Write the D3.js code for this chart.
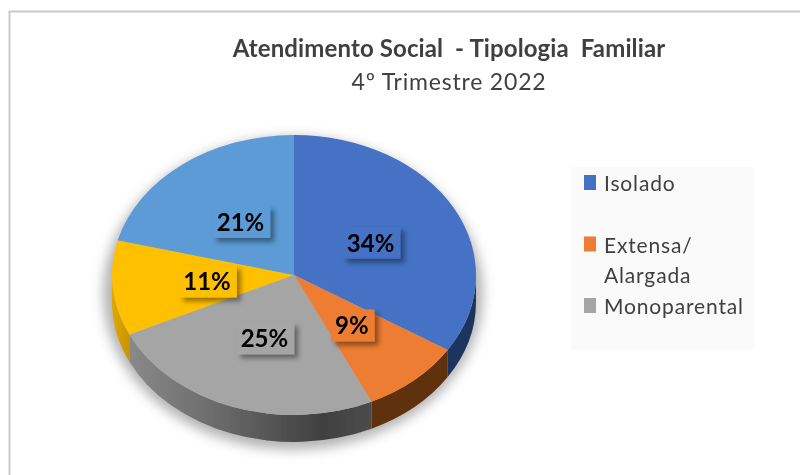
<!DOCTYPE html>
<html>
<head>
<meta charset="utf-8">
<script src="https://cdn.jsdelivr.net/npm/d3@7"></script>
<style>
  body { margin: 0; background: #fff; }
  svg { display: block; font-family: Lato, "Open Sans", sans-serif; }
</style>
</head>
<body>
<div id="chart"></div>
<script>
const titleText = 'Atendimento Social  - Tipologia  Familiar';
const subtitleText = '4º Trimestre 2022';
const sliceValues = [34, 9, 25, 11, 21];
const sliceColors = ['#4472c4', '#ed7d31', '#a5a5a5', '#ffc000', '#5b9bd5'];
const wallColors = ['#1b365f', '#5f3011', 'url(#greyWall)', 'url(#yellowWall)', '#2c4f70'];
// the empty string is the blank row the legend leaves under Isolado
const legendLines = [['Isolado', ''], ['Extensa/', 'Alargada'], ['Monoparental']];

const width = 800, height = 475;
const cx = 294, cy = 275;
const rx = 182, ry = 140, depth = 27;

const svg = d3.select('#chart').append('svg').attr('width', width).attr('height', height);
const defs = svg.append('defs');

defs.append('filter').attr('id', 'halo')
  .attr('x', '-20%').attr('y', '-20%').attr('width', '140%').attr('height', '140%')
  .append('feGaussianBlur').attr('stdDeviation', 6);

// the reference is a slightly soft pasted picture
defs.append('filter').attr('id', 'soft')
  .attr('filterUnits', 'userSpaceOnUse')
  .attr('x', 0).attr('y', 0).attr('width', width).attr('height', height)
  .append('feGaussianBlur').attr('stdDeviation', 0.45);

const labelShadow = defs.append('filter').attr('id', 'labelShadow')
  .attr('x', '-30%').attr('y', '-30%').attr('width', '170%').attr('height', '170%');
labelShadow.append('feDropShadow')
  .attr('dx', 4).attr('dy', 4).attr('stdDeviation', 2.4)
  .attr('flood-color', '#000').attr('flood-opacity', 0.4);

function addGradient(id, stops) {
  const g = defs.append('linearGradient').attr('id', id)
    .attr('gradientUnits', 'userSpaceOnUse')
    .attr('x1', cx - rx).attr('x2', cx + 80).attr('y1', 0).attr('y2', 0);
  stops.forEach(function(s) {
    g.append('stop').attr('offset', s[0]).attr('stop-color', s[1]);
  });
}
addGradient('greyWall', [[0, '#8f8f8f'], [0.45, '#666'], [0.8, '#404040'], [1, '#4c4c4c']]);
addGradient('yellowWall', [[0, '#e0a800'], [0.1, '#b88b00']]);

const root = svg.append('g').attr('filter', 'url(#soft)');

// frame of the pasted picture, it runs off to the right and the bottom
root.append('rect')
  .attr('x', 9.5).attr('y', 11.5)
  .attr('width', width + 20).attr('height', height + 20)
  .attr('fill', 'none').attr('stroke', '#c9c9c9').attr('stroke-width', 2);

// titles
root.append('text').attr('x', 449).attr('y', 57)
  .attr('text-anchor', 'middle').attr('xml:space', 'preserve').style('white-space', 'pre')
  .attr('font-size', 24).attr('letter-spacing', 0.12).attr('font-weight', 700).attr('fill', '#404040')
  .text(titleText);
root.append('text').attr('x', 449).attr('y', 90)
  .attr('text-anchor', 'middle')
  .attr('font-size', 23).attr('letter-spacing', 0.8).attr('fill', '#404040')
  .text(subtitleText);

// soft shadow round the disc, it hangs low so the top edge stays clean
root.append('ellipse')
  .attr('cx', cx - 1).attr('cy', cy + depth / 2 + 5)
  .attr('rx', rx + 8).attr('ry', ry + depth / 2 + 3)
  .attr('fill', '#777').attr('opacity', 0.55)
  .attr('filter', 'url(#halo)');

const pie = d3.pie().sort(null).value(function(d) { return d; });
const slices = pie(sliceValues);

// x / y on the tilted disc for a pie angle
function px(a) { return cx + rx * Math.sin(a); }
function py(a) { return cy - ry * Math.cos(a); }

// side wall, only the front half of the disc can be seen
function wallPath(d) {
  const a0 = Math.max(d.startAngle, Math.PI / 2);
  const a1 = Math.min(d.endAngle, Math.PI * 3 / 2);
  if (a1 <= a0) return null;
  return 'M' + px(a0) + ',' + py(a0) +
    'A' + rx + ',' + ry + ' 0 0 1 ' + px(a1) + ',' + py(a1) +
    'L' + px(a1) + ',' + (py(a1) + depth) +
    'A' + rx + ',' + ry + ' 0 0 0 ' + px(a0) + ',' + (py(a0) + depth) + 'Z';
}

root.append('g').selectAll('path').data(slices).enter().append('path')
  .attr('d', wallPath)
  .attr('fill', function(d, i) { return wallColors[i]; });

// top face, a plain d3 arc squashed into the ellipse
const arc = d3.arc().innerRadius(0).outerRadius(rx);
const face = root.append('g')
  .attr('transform', 'translate(' + cx + ',' + cy + ') scale(1,' + (ry / rx) + ')');
face.selectAll('path').data(slices).enter().append('path')
  .attr('d', arc)
  .attr('fill', function(d, i) { return sliceColors[i]; });

// value labels sit in a box of the slice colour with a drop shadow
const labelArc = d3.arc().innerRadius(rx * 0.48).outerRadius(rx * 0.48);
const labels = root.append('g').selectAll('g').data(slices).enter().append('g')
  .attr('transform', function(d) {
    const c = labelArc.centroid(d);
    return 'translate(' + (cx + c[0]) + ',' + (cy + c[1] * ry / rx + 1) + ')';
  });
labels.append('rect')
  .attr('fill', function(d, i) { return sliceColors[i]; })
  .attr('filter', 'url(#labelShadow)');
labels.append('text')
  .attr('text-anchor', 'middle').attr('y', 8)
  .attr('font-size', 24).attr('font-weight', 700).attr('fill', '#000')
  .text(function(d) { return d.value + '%'; });
// box follows the width of its own text
labels.each(function() {
  const g = d3.select(this);
  const w = g.select('text').node().getBBox().width;
  g.select('rect')
    .attr('x', -w / 2 - 4).attr('y', -17)
    .attr('width', w + 10).attr('height', 32);
});

// legend
const legendX = 571, legendTop = 167;
root.append('rect')
  .attr('x', legendX).attr('y', legendTop).attr('width', 183).attr('height', 183)
  .attr('fill', '#fafafa');

const rowY = d3.scaleLinear().domain([0, 4]).range([191, 314]);
let row = 0;
legendLines.forEach(function(lines, i) {
  root.append('rect')
    .attr('x', legendX + 13).attr('y', rowY(row) - 16)
    .attr('width', 12).attr('height', 15)
    .attr('fill', sliceColors[i]);
  lines.forEach(function(line) {
    root.append('text')
      .attr('x', legendX + 33).attr('y', rowY(row))
      .attr('font-size', 21).attr('letter-spacing', 0.85).attr('fill', '#404040')
      .text(line);
    row += 1;
  });
});
</script>
</body>
</html>
